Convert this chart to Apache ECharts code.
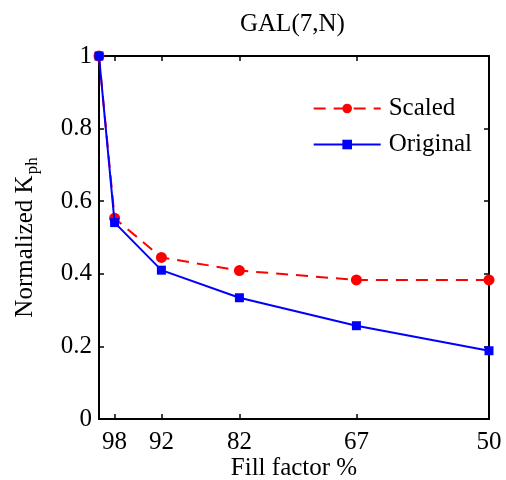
<!DOCTYPE html>
<html>
<head>
<meta charset="utf-8">
<script src="https://cdn.jsdelivr.net/npm/echarts@6/dist/echarts.min.js"></script>
<style>
  html, body { margin: 0; padding: 0; background: #fff; }
  #chart { width: 506px; height: 480px; }
</style>
</head>
<body>
<div id="chart"></div>
<script>
// Fill factor (%) for each measurement, first point is the unfilled reference
const fillFactor = [100, 98, 92, 82, 67, 50];
const scaled = [1.0, 0.553, 0.445, 0.409, 0.383, 0.383];
const original = [1.0, 0.541, 0.410, 0.334, 0.257, 0.188];
const xTicks = [98, 92, 82, 67, 50];

const FONT = 'Liberation Serif';
const FS = 25;

const pairs = (ys) => fillFactor.map((x, i) => [x, ys[i]]);

const axisLine = { show: true, onZero: false, lineStyle: { color: '#000', width: 2 } };
const tickStyle = { color: '#000', width: 1.5 };

const chart = echarts.init(document.getElementById('chart'), null, { renderer: 'canvas' });

chart.setOption({
  animation: false,
  backgroundColor: '#fff',
  title: {
    text: 'GAL(7,N)',
    left: 235,
    top: 7,
    textStyle: { fontFamily: FONT, fontSize: FS, fontWeight: 'normal', color: '#000' }
  },
  grid: { left: 99, right: 17, top: 56, bottom: 61, containLabel: false, outerBoundsMode: 'none' },
  legend: {
    right: 29,
    top: 91,
    orient: 'vertical',
    itemWidth: 67,
    itemHeight: 12,
    itemGap: 11,
    textStyle: { fontFamily: FONT, fontSize: FS, color: '#000', padding: [0, 0, 0, 3] },
    data: ['Scaled', 'Original']
  },
  xAxis: [
    {
      type: 'value',
      min: 50,
      max: 100,
      inverse: true,
      name: 'Fill factor %',
      nameLocation: 'middle',
      nameGap: 37,
      nameMoveOverlap: false,
      nameTextStyle: { fontFamily: FONT, fontSize: FS, color: '#000' },
      axisLine: axisLine,
      axisTick: { show: true, inside: true, length: 5, customValues: xTicks, lineStyle: tickStyle },
      axisLabel: { customValues: xTicks, margin: 11, fontFamily: FONT, fontSize: FS, color: '#000' },
      splitLine: { show: false }
    },
    {
      type: 'value',
      min: 50,
      max: 100,
      inverse: true,
      position: 'top',
      axisLine: axisLine,
      axisTick: { show: true, inside: true, length: 5, customValues: xTicks, lineStyle: tickStyle },
      axisLabel: { show: false },
      splitLine: { show: false }
    }
  ],
  yAxis: [
    {
      type: 'value',
      min: 0,
      max: 1,
      interval: 0.2,
      name: '{n|Normalized K}{s|ph}',
      nameLocation: 'middle',
      nameGap: 58,
      nameMoveOverlap: false,
      nameRotate: 90,
      nameTextStyle: {
        fontFamily: FONT,
        color: '#000',
        rich: {
          n: { fontFamily: FONT, fontSize: FS, color: '#000' },
          s: { fontFamily: FONT, fontSize: 17, color: '#000', padding: [14, 0, 0, 1] }
        }
      },
      axisLine: axisLine,
      axisTick: { show: true, inside: true, length: 5, lineStyle: tickStyle },
      axisLabel: { margin: 7, fontFamily: FONT, fontSize: FS, color: '#000' },
      splitLine: { show: false }
    },
    {
      type: 'value',
      min: 0,
      max: 1,
      interval: 0.2,
      position: 'right',
      axisLine: axisLine,
      axisTick: { show: true, inside: true, length: 5, lineStyle: tickStyle },
      axisLabel: { show: false },
      splitLine: { show: false }
    }
  ],
  series: [
    {
      name: 'Scaled',
      type: 'line',
      data: pairs(scaled),
      clip: false,
      symbol: 'circle',
      symbolSize: 11,
      itemStyle: { color: '#ff0000' },
      lineStyle: { color: '#ff0000', width: 2, type: [12, 8] },
      z: 2
    },
    {
      name: 'Original',
      type: 'line',
      data: pairs(original),
      clip: false,
      symbol: 'rect',
      symbolSize: 9,
      itemStyle: { color: '#0000ff' },
      lineStyle: { color: '#0000ff', width: 2 },
      z: 3
    }
  ]
});
</script>
</body>
</html>
